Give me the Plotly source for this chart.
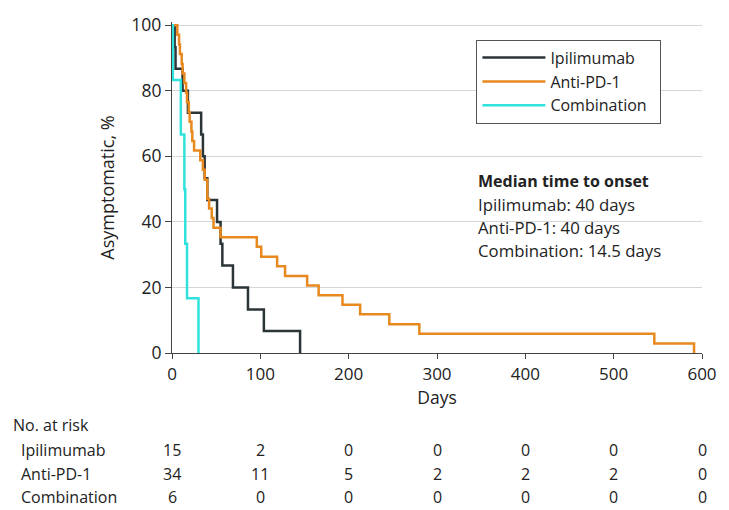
import plotly.graph_objects as go

# Kaplan-Meier style step data (days, % asymptomatic)
ipi_days = [0, 3, 4, 12, 18, 33, 35, 37, 40, 51, 55, 57, 69, 86, 104, 145]
ipi_pct = [100, 93.3, 86.7, 80, 73.3, 66.7, 60, 53.3, 46.7, 40, 33.3, 26.7, 20, 13.3, 6.7, 0]

anti_days = [0, 6, 8, 9, 11, 12, 14, 16, 17, 19, 20, 22, 23, 25, 32, 35, 37, 40, 40,
             42, 45, 47, 55, 96, 101, 119, 128, 153, 166, 193, 213, 246, 280, 546, 591]
anti_pct = [100, 97.1, 94.1, 91.2, 88.2, 85.3, 82.4, 79.4, 76.5, 73.5, 70.6, 67.6, 64.7,
            61.8, 58.8, 55.9, 52.9, 50.0, 47.1, 44.1, 41.2, 38.2, 35.3, 32.4, 29.4, 26.5,
            23.5, 20.6, 17.6, 14.7, 11.8, 8.8, 5.9, 2.9, 0]

combo_days = [0, 1, 10, 14, 15, 17, 30]
combo_pct = [100, 83.3, 66.7, 50, 33.3, 16.7, 0]

# Number at risk table
risk_days = [0, 100, 200, 300, 400, 500, 600]
ipi_risk = [15, 2, 0, 0, 0, 0, 0]
anti_risk = [34, 11, 5, 2, 2, 2, 0]
combo_risk = [6, 0, 0, 0, 0, 0, 0]

median_title = "Median time to onset"
median_lines = ["Ipilimumab: 40 days", "Anti-PD-1: 40 days", "Combination: 14.5 days"]

C_IPI = "#2b3538"
C_ANTI = "#e8891f"
C_COMBO = "#2fe3dc"
FONT = "Open Sans"
TXT = "#222222"

NB = "\u00a0"
fig = go.Figure()
fig.add_trace(go.Scatter(x=ipi_days, y=ipi_pct, mode="lines", line_shape="hv",
                         line=dict(color=C_IPI, width=2.5), name="Ipilimumab"))
fig.add_trace(go.Scatter(x=anti_days, y=anti_pct, mode="lines", line_shape="hv",
                         line=dict(color=C_ANTI, width=2.5), name="Anti-PD-1"))
fig.add_trace(go.Scatter(x=combo_days, y=combo_pct, mode="lines", line_shape="hv",
                         line=dict(color=C_COMBO, width=2.5), name="Combination" + NB * 2))

W, H = 729, 510
L, R, T, B = 172, 19, 16, 157
ph = H - T - B
pw = W - L - R


def py(pix):
    return (H - B - pix) / ph


def px(pix):
    return (pix - L) / pw


annotations = []
annotations.append(dict(text="<b>" + median_title + "</b>", x=px(481), y=py(178), xref="paper", yref="paper",
                        xanchor="left", yanchor="middle", showarrow=False,
                        font=dict(family=FONT, size=16, color=TXT)))
for i, t in enumerate(median_lines):
    annotations.append(dict(text=t, x=px(481), y=py(202 + 23.5 * i), xref="paper", yref="paper",
                            xanchor="left", yanchor="middle", showarrow=False,
                            font=dict(family=FONT, size=16.8, color=TXT)))

annotations.append(dict(text="No. at risk", x=px(9), y=py(426), xref="paper", yref="paper",
                        xanchor="left", yanchor="middle", showarrow=False,
                        font=dict(family=FONT, size=16, color=TXT)))

rows = [("Ipilimumab", ipi_risk, 452), ("Anti-PD-1", anti_risk, 476), ("Combination", combo_risk, 500)]
for label, vals, ypix in rows:
    annotations.append(dict(text=label, x=px(17), y=py(ypix), xref="paper", yref="paper",
                            xanchor="left", yanchor="middle", showarrow=False,
                            font=dict(family=FONT, size=16, color=TXT)))
    for d, v in zip(risk_days, vals):
        annotations.append(dict(text=str(v), x=d, y=py(ypix), xref="x", yref="paper",
                                xanchor="center", yanchor="middle", showarrow=False,
                                font=dict(family=FONT, size=16, color=TXT)))

fig.update_layout(
    width=W, height=H, autosize=False,
    margin=dict(l=L, r=R, t=T, b=B),
    plot_bgcolor="white", paper_bgcolor="white",
    font=dict(family=FONT, size=16, color=TXT),
    showlegend=True,
    legend=dict(x=px(481), y=py(34), xanchor="left", yanchor="top",
                bordercolor="#555555", borderwidth=1, bgcolor="white",
                font=dict(family=FONT, size=16, color=TXT), itemwidth=63,
                tracegroupgap=0),
    xaxis=dict(range=[0, 600], tickvals=risk_days, showgrid=False, zeroline=False,
               showline=True, linecolor="#444444", linewidth=1.2,
               ticks="outside", ticklen=5, tickcolor="#444444",
               tickfont=dict(family=FONT, size=17, color=TXT),
               title=dict(text="Days", standoff=0, font=dict(family=FONT, size=17.5, color=TXT))),
    yaxis=dict(range=[0, 101], tickvals=[0, 20, 40, 60, 80, 100], showgrid=True,
               gridcolor="#d6d6d6", gridwidth=1, zeroline=False,
               showline=True, linecolor="#444444", linewidth=1.2,
               ticks="outside", ticklen=6, tickcolor="#444444",
               tickfont=dict(family=FONT, size=17.5, color=TXT),
               title=dict(text="Asymptomatic, %", standoff=12, font=dict(family=FONT, size=18, color=TXT))),
    annotations=annotations,
)

fig.write_html("out.html", config={"displayModeBar": False},
               post_script="document.body.style.margin='0px';")
